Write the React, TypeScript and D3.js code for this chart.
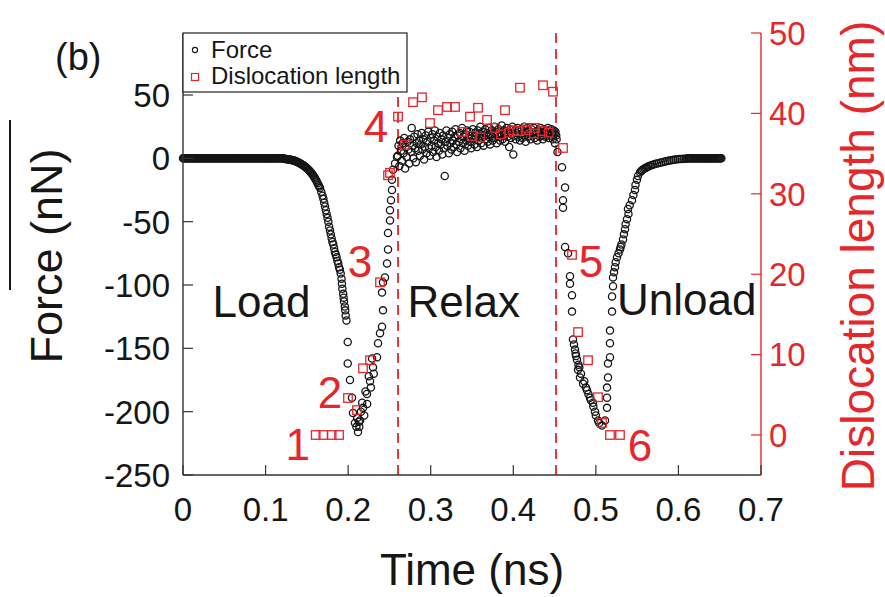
import React from "react";
import * as d3 from "d3";

// ---------- axis ticks ----------
const timeTicks = [0, 0.1, 0.2, 0.3, 0.4, 0.5, 0.6, 0.7];
const timeTickLabels = ["0", "0.1", "0.2", "0.3", "0.4", "0.5", "0.6", "0.7"];
const forceTicks = [-250, -200, -150, -100, -50, 0, 50];
const forceTickLabels = ["-250", "-200", "-150", "-100", "-50", "0", "50"];
const lengthTicks = [0, 10, 20, 30, 40, 50];
const lengthTickLabels = ["0", "10", "20", "30", "40", "50"];

// phase boundaries (ns)
const phaseBoundaries = [0.2604, 0.4517];

// ---------- Force (nN) series ----------
const loadFlatTime = [
  0, 0.001, 0.002, 0.003, 0.004, 0.005, 0.006, 0.007, 0.008, 0.009, 0.01, 0.011, 0.012, 0.013, 0.014, 0.015, 0.016, 0.017, 0.018, 0.019,
  0.02, 0.021, 0.022, 0.023, 0.024, 0.025, 0.026, 0.027, 0.028, 0.029, 0.03, 0.031, 0.032, 0.033, 0.034, 0.035, 0.036, 0.037, 0.038, 0.039,
  0.04, 0.041, 0.042, 0.043, 0.044, 0.045, 0.046, 0.047, 0.048, 0.049, 0.05, 0.051, 0.052, 0.053, 0.054, 0.055, 0.056, 0.057, 0.058, 0.059,
  0.06, 0.061, 0.062, 0.063, 0.064, 0.065, 0.066, 0.067, 0.068, 0.069, 0.07, 0.071, 0.072, 0.073, 0.074, 0.075, 0.076, 0.077, 0.078, 0.079,
  0.08, 0.081, 0.082, 0.083, 0.084, 0.085, 0.086, 0.087, 0.088, 0.089, 0.09, 0.091, 0.092, 0.093, 0.094, 0.095, 0.096, 0.097, 0.098, 0.099,
  0.1, 0.101, 0.102, 0.103, 0.104, 0.105, 0.106, 0.107, 0.108, 0.109, 0.11, 0.111, 0.112, 0.113, 0.114, 0.115, 0.116, 0.117, 0.118, 0.119, 0.12, 0.121,
];

const loadBend: [number, number][] = [
  [0.122, -0.3], [0.123, -0.4], [0.124, -0.5], [0.125, -0.6], [0.126, -0.7], [0.127, -0.8], [0.128, -0.9], [0.129, -1], [0.13, -1.1], [0.131, -1.25], [0.132, -1.4], [0.133, -1.6], [0.134, -1.8], [0.135, -2], [0.136, -2.2], [0.137, -2.4], [0.138, -2.7], [0.139, -3], [0.14, -3.3], [0.141, -3.6], [0.142, -4], [0.143, -4.4], [0.144, -4.8], [0.145, -5.2], [0.146, -5.7], [0.147, -6.2], [0.148, -6.7], [0.149, -7.2], [0.15, -7.8], [0.151, -8.4], [0.152, -9], [0.153, -9.7], [0.154, -10.5], [0.155, -11.2], [0.156, -12], [0.157, -12.9], [0.158, -13.8], [0.159, -14.9], [0.16, -16], [0.161, -17.1], [0.162, -18.3], [0.163, -19.6], [0.164, -21], [0.165, -22.2], [0.166, -23.5], [0.1675, -26.5], [0.169, -29.5], [0.17, -32], [0.171, -35],
];

const loadDrop: [number, number][] = [
  [0.172, -38], [0.173, -41], [0.174, -44], [0.175, -47], [0.176, -50], [0.177, -54], [0.178, -57], [0.179, -60], [0.18, -63], [0.181, -66], [0.182, -68], [0.183, -71], [0.184, -74], [0.185, -76], [0.186, -78], [0.187, -81], [0.188, -83], [0.189, -86], [0.19, -88], [0.191, -91], [0.192, -95], [0.1925, -99], [0.193, -103], [0.194, -107], [0.1945, -110], [0.195, -113], [0.196, -117], [0.1965, -120], [0.197, -124], [0.198, -128],
  [0.1995, -145], [0.1995, -162], [0.2022, -175], [0.2047, -189], [0.2059, -201], [0.2083, -209], [0.2119, -216], [0.21, -212], [0.211, -205],
];

const loadRise: [number, number][] = [
  [0.2135, -212], [0.2144, -207], [0.213, -208], [0.2155, -200], [0.217, -193], [0.218, -197], [0.2195, -203], [0.221, -184], [0.2228, -186], [0.223, -194], [0.225, -172], [0.2265, -176], [0.2275, -181], [0.229, -158], [0.2301, -165], [0.231, -170], [0.235, -157], [0.2362, -146], [0.2386, -138], [0.241, -133], [0.2422, -120], [0.241, -106], [0.2422, -98], [0.2446, -94], [0.2471, -83], [0.2483, -72], [0.2483, -59], [0.2507, -49], [0.2507, -41], [0.2519, -33], [0.2531, -25], [0.2531, -17], [0.2543, -9], [0.2568, -4], [0.2592, 1],
];

const relax: [number, number][] = [
  [0.26, 2], [0.261, 10], [0.262, -6], [0.263, 14], [0.264, 6], [0.265, -2], [0.266, 12], [0.267, 4], [0.268, 16], [0.269, -8], [0.27, 9], [0.271, 1], [0.272, 13], [0.273, 7], [0.274, -4], [0.275, 15], [0.276, 5], [0.277, 24], [0.278, 10], [0.279, 0],
  [0.28, 17], [0.281, 8], [0.282, -3], [0.283, 12], [0.284, 19], [0.285, 6], [0.286, 14], [0.287, 2], [0.288, 11], [0.289, 20], [0.29, 7], [0.291, 15], [0.292, -1], [0.293, 9], [0.294, 18], [0.295, 4], [0.296, 13], [0.297, 21], [0.298, 8], [0.299, 2],
  [0.3, 16], [0.301, 10], [0.302, 19], [0.303, 5], [0.304, 14], [0.305, 22], [0.306, 9], [0.307, 1], [0.308, 17], [0.309, 12], [0.31, 6], [0.311, 20], [0.312, 11], [0.313, 15], [0.314, 3], [0.315, 18], [0.316, 8], [0.317, -14], [0.318, 13], [0.319, 22],
  [0.32, 10], [0.321, 16], [0.322, 4], [0.323, 19], [0.324, 12], [0.325, 7], [0.326, 21], [0.327, 14], [0.328, 9], [0.329, 17], [0.33, 23], [0.331, 11], [0.332, 5], [0.333, 18], [0.334, 13], [0.335, 20], [0.336, 8], [0.337, 15], [0.338, 24], [0.339, 12],
  [0.34, 17], [0.341, 6], [0.342, 19], [0.343, 14], [0.344, 22], [0.345, 10], [0.346, 16], [0.347, 21], [0.348, 13], [0.349, 8], [0.35, 18], [0.351, 23], [0.352, 15], [0.353, 11], [0.354, 20], [0.355, 17], [0.356, 9], [0.357, 22], [0.358, 14], [0.359, 19],
  [0.36, 25], [0.361, 12], [0.362, 16], [0.363, 21], [0.364, 10], [0.365, 18], [0.366, 23], [0.367, 15], [0.368, 20], [0.369, 13], [0.37, 17], [0.371, 24], [0.372, 11], [0.373, 19], [0.374, 22], [0.375, 14], [0.376, 18], [0.377, 25], [0.378, 16], [0.379, 21],
  [0.38, 12], [0.381, 19], [0.382, 23], [0.383, 17], [0.384, 14], [0.385, 20], [0.386, 26], [0.387, 15], [0.388, 22], [0.389, 18], [0.39, 13], [0.391, 21], [0.392, 24], [0.393, 17], [0.394, 20], [0.395, 9], [0.396, 23], [0.397, 16], [0.398, 19], [0.399, 25],
  [0.4, 3], [0.401, 18], [0.402, 22], [0.403, 15], [0.404, 20], [0.405, 24], [0.406, 17], [0.407, 21], [0.408, 14], [0.409, 19], [0.41, 23], [0.411, 16], [0.412, 20], [0.413, 25], [0.414, 18], [0.415, 13], [0.416, 21], [0.417, 24], [0.418, 17], [0.419, 22],
  [0.42, 19], [0.421, 15], [0.422, 23], [0.423, 20], [0.424, 18], [0.425, 24], [0.426, 16], [0.427, 21], [0.428, 19], [0.429, 14], [0.43, 22], [0.431, 20], [0.432, 17], [0.433, 24], [0.434, 21], [0.435, 18], [0.436, 15], [0.437, 23], [0.438, 20], [0.439, 17],
  [0.44, 22], [0.441, 19], [0.442, 24], [0.443, 16], [0.444, 21], [0.445, 18], [0.446, 23], [0.447, 20], [0.448, 15], [0.449, 22], [0.45, 19], [0.451, 21],
];

const unloadDrop: [number, number][] = [
  [0.452, 18], [0.4525, 15], [0.4535, 5], [0.4505, 12], [0.459, -7], [0.4627, -23], [0.4602, -33], [0.4602, -39], [0.4627, -70], [0.4663, -75], [0.4687, -93], [0.4687, -99], [0.4711, -108], [0.4711, -121], [0.4723, -143], [0.4735, -147], [0.4748, -151], [0.4755, -154], [0.476, -156], [0.4772, -159], [0.479, -163], [0.4784, -167], [0.48, -165], [0.482, -170], [0.4808, -173], [0.4845, -178], [0.486, -176], [0.488, -181], [0.4893, -183], [0.491, -186], [0.4929, -189], [0.494, -191], [0.4965, -193], [0.497, -196], [0.499, -200], [0.5, -203], [0.5026, -207], [0.504, -209], [0.5074, -211],
];

const unloadRise: [number, number][] = [
  [0.5111, -207], [0.5135, -197], [0.5135, -189], [0.5135, -181], [0.5147, -173], [0.5147, -162], [0.5171, -157], [0.5171, -146], [0.5171, -136], [0.5196, -121], [0.5196, -109], [0.5208, -101], [0.5208, -94], [0.522, -90], [0.5232, -86], [0.524, -82], [0.5256, -78], [0.5275, -75], [0.5292, -72], [0.53, -70], [0.531, -68], [0.5329, -64], [0.534, -60], [0.5353, -56], [0.536, -52], [0.5377, -48], [0.5389, -40], [0.5395, -44], [0.541, -37], [0.5438, -33], [0.5455, -29], [0.5474, -25], [0.548, -21], [0.5498, -17], [0.551, -14], [0.5535, -11], [0.555, -10], [0.556, -9.5], [0.5575, -8.7], [0.559, -8], [0.5605, -7.5], [0.5619, -7], [0.5635, -6.5], [0.565, -6], [0.567, -5.5], [0.569, -5], [0.5715, -4.5], [0.574, -4], [0.5765, -3.6], [0.579, -3.2], [0.5815, -2.8], [0.584, -2.5], [0.5865, -2.1], [0.589, -1.8], [0.5915, -1.5], [0.594, -1.2], [0.5965, -1], [0.599, -0.8], [0.6015, -0.6], [0.604, -0.5], [0.6065, -0.4], [0.609, -0.3], [0.6105, -0.2],
];

const unloadFlatTime = [
  0.612, 0.613, 0.614, 0.615, 0.616, 0.617, 0.618, 0.619, 0.62, 0.621, 0.622, 0.623, 0.624, 0.625, 0.626, 0.627, 0.628, 0.629, 0.63, 0.631,
  0.632, 0.633, 0.634, 0.635, 0.636, 0.637, 0.638, 0.639, 0.64, 0.641, 0.642, 0.643, 0.644, 0.645, 0.646, 0.647, 0.648, 0.649, 0.65, 0.651, 0.652,
];

// ---------- Dislocation length (nm) series ----------
const dislocationLoad: [number, number][] = [
  [0.1607, 0], [0.17, 0], [0.18, 0], [0.189, 0], [0.1998, 4.6], [0.2107, 3.1], [0.218, 8.3], [0.2265, 9.3], [0.2386, 19], [0.2483, 32.3], [0.2507, 32.6], [0.2604, 39.6], [0.2689, 36.1],
];
const dislocationRelax: [number, number][] = [
  [0.2786, 41.4], [0.2894, 42.0], [0.2991, 38.8], [0.3088, 40.4], [0.3197, 40.8], [0.3294, 40.8], [0.3379, 37.7], [0.3476, 39.6], [0.35, 37.2], [0.3573, 40.7], [0.36, 37.0], [0.3682, 39.2], [0.3779, 38.2], [0.385, 37.4], [0.39, 40.4], [0.395, 37.6], [0.3997, 37.9], [0.405, 37.8], [0.4081, 43.2], [0.415, 37.9], [0.4166, 38.2], [0.425, 37.5], [0.4263, 38.2], [0.435, 37.8], [0.436, 43.5], [0.443, 37.6], [0.4481, 42.7],
];
const dislocationUnload: [number, number][] = [
  [0.4602, 35.7], [0.4711, 22.4], [0.4784, 12.8], [0.4905, 9.3], [0.5026, 4.7], [0.5074, 1.5], [0.5171, 0], [0.5292, 0],
];

// ---------- annotations (data coordinates) ----------
const stageLabels = ["1", "2", "3", "4", "5", "6"];
const stageLabelTime = [0.139, 0.178, 0.2144, 0.2337, 0.494, 0.5535];
const stageLabelForce = [-238, -197, -94, 13, -94, -239];
const phaseLabels = ["Load", "Relax", "Unload"];
const phaseLabelTime = [0.095, 0.34, 0.61];
const phaseLabelForce = [-125, -125, -124];

const RED = "#e5262b";
const INK = "#161616";
const FONT = "'Liberation Sans', Arial, Helvetica, sans-serif";

export default function App() {
  const x = d3.scaleLinear().domain([0, 0.7]).range([183, 761]);
  const yF = d3.scaleLinear().domain([-250, 50]).range([475, 95]);
  const yL = d3.scaleLinear().domain([0, 50]).range([435, 33]);
  const top = 33;
  const bottom = yF(-250);
  const left = x(0);
  const right = x(0.7);

  const force: [number, number][] = [
    ...loadFlatTime.map((t) => [t, 0] as [number, number]),
    ...loadBend,
    ...loadDrop,
    ...loadRise,
    ...relax,
    ...unloadDrop,
    ...unloadRise,
    ...unloadFlatTime.map((t) => [t, 0] as [number, number]),
  ];
  const dislocation = [...dislocationLoad, ...dislocationRelax, ...dislocationUnload];
  const sq = 8.5;

  return (
    <svg
      width={885}
      height={597}
      viewBox="0 0 885 597"
      style={{ position: "absolute", left: 0, top: 0, background: "#fff" }}
      fontFamily={FONT}
    >
      <rect x={0} y={0} width={885} height={597} fill="#fff" />

      {/* phase boundaries */}
      {phaseBoundaries.map((t, i) => (
        <line key={"pb" + i} x1={x(t)} x2={x(t)} y1={bottom} y2={top} stroke={RED} strokeWidth={1.8} strokeDasharray="10 6" />
      ))}

      {/* force points */}
      <g fill="none" stroke={INK} strokeWidth={1.3}>
        {force.map((d, i) => (
          <circle key={"f" + i} cx={x(d[0])} cy={yF(d[1])} r={3.6} />
        ))}
      </g>

      {/* dislocation points */}
      <g fill="none" stroke={RED} strokeWidth={1.3}>
        {dislocation.map((d, i) => (
          <rect key={"d" + i} x={x(d[0]) - sq / 2} y={yL(d[1]) - sq / 2} width={sq} height={sq} />
        ))}
      </g>

      {/* axes */}
      <line x1={left} x2={left} y1={top} y2={bottom} stroke="#333" strokeWidth={1.4} />
      <line x1={left} x2={right} y1={bottom} y2={bottom} stroke="#333" strokeWidth={1.4} />
      <line x1={right} x2={right} y1={top} y2={bottom} stroke={RED} strokeWidth={1.4} />

      {timeTicks.map((t, i) => (
        <g key={"tt" + i}>
          <line x1={x(t)} x2={x(t)} y1={bottom} y2={bottom - 10} stroke="#333" strokeWidth={1.2} />
          <text x={x(t)} y={521} fontSize={33} textAnchor="middle" fill={INK}>
            {timeTickLabels[i]}
          </text>
        </g>
      ))}
      {forceTicks.map((v, i) => (
        <g key={"ft" + i}>
          <line x1={left} x2={left + 10} y1={yF(v)} y2={yF(v)} stroke="#333" strokeWidth={1.2} />
          <text x={170} y={yF(v)} dy="0.36em" fontSize={33} textAnchor="end" fill={INK}>
            {forceTickLabels[i]}
          </text>
        </g>
      ))}
      {lengthTicks.map((v, i) => (
        <g key={"lt" + i}>
          <line x1={right} x2={right - 10} y1={yL(v)} y2={yL(v)} stroke={RED} strokeWidth={1.2} />
          <text x={769} y={yL(v)} dy="0.36em" fontSize={33} textAnchor="start" fill={RED}>
            {lengthTickLabels[i]}
          </text>
        </g>
      ))}

      {/* axis titles */}
      <text x={472} y={585} fontSize={44} textAnchor="middle" fill={INK}>
        Time (ns)
      </text>
      <text transform="translate(62,256) rotate(-90)" fontSize={45} textAnchor="middle" fill={INK}>
        Force (nN)
      </text>
      <line x1={10} x2={10} y1={120} y2={290} stroke={INK} strokeWidth={2} />
      <text transform="translate(874,256) rotate(-90)" fontSize={46} textAnchor="middle" fill={RED}>
        Dislocation length (nm)
      </text>

      {/* panel label */}
      <text x={55} y={70} fontSize={38} fill={INK}>
        (b)
      </text>

      {/* stage labels */}
      {stageLabels.map((s, i) => (
        <text key={"s" + i} x={x(stageLabelTime[i])} y={yF(stageLabelForce[i])} fontSize={44} textAnchor="middle" fill={RED}>
          {s}
        </text>
      ))}
      {phaseLabels.map((s, i) => (
        <text key={"p" + i} x={x(phaseLabelTime[i])} y={yF(phaseLabelForce[i])} fontSize={44} textAnchor="middle" fill={INK}>
          {s}
        </text>
      ))}

      {/* legend */}
      <g>
        <rect x={left} y={top} width={224} height={59} fill="#fff" stroke="#222" strokeWidth={1.2} />
        <circle cx={195} cy={50} r={2.6} fill="none" stroke={INK} strokeWidth={1.1} />
        <text x={211} y={58} fontSize={24} fill={INK}>
          Force
        </text>
        <rect x={191.5} y={73.5} width={7} height={7} fill="none" stroke={RED} strokeWidth={1.2} />
        <text x={211} y={84} fontSize={24} fill={INK}>
          Dislocation length
        </text>
      </g>
    </svg>
  );
}
